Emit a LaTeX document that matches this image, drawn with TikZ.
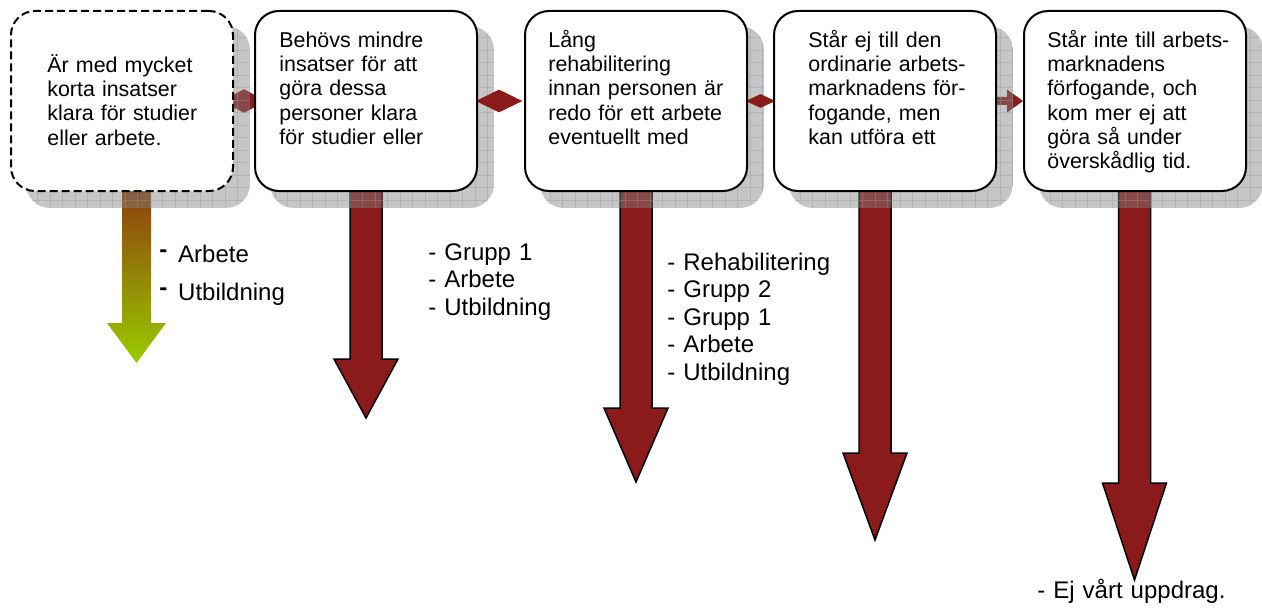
\documentclass[tikz,border=0pt]{standalone}
\usepackage{fontspec}
\setmainfont{Liberation Sans}
\usetikzlibrary{calc,shapes.geometric}
\definecolor{linkred}{RGB}{139,26,26}
\definecolor{startbrown}{RGB}{140,30,18}
\definecolor{endgreen}{RGB}{153,204,0}
\pgfdeclarelayer{bg}
\pgfdeclarelayer{shade}
\pgfdeclarelayer{mid}
\pgfsetlayers{bg,shade,mid,main}

\begin{document}
\begin{tikzpicture}[
        x=0.5pt, y=-0.5pt,
        box/.style={
            rectangle,
            draw,
            line width=1pt,
            fill=white,
            rounded corners=12pt,
            minimum width=111pt,
            minimum height=90pt,
            inner sep=0pt
        },
        boxtext/.style={
            anchor=base west,
            align=left,
            text width=105pt,
            inner sep=0pt,
            font=\fontsize{10.7}{12}\selectfont
        },
        listtext/.style={
            anchor=base west,
            align=left,
            text width=110pt,
            inner sep=0pt,
            font=\fontsize{12}{13.75}\selectfont
        },
        droparrow/.style={
            fill=linkred,
            draw=black,
            line width=0.75pt,
            line join=miter
        },
        link/.style={
            diamond,
            fill=linkred,
            inner sep=0pt
        }
    ]
        \useasboundingbox (0,0) rectangle (1262,610);

        % steps
        \node[box, dash pattern=on 4pt off 2pt] (b1) at (122,101) {};
        \node[box] (b2) at (366,101) {};
        \node[box] (b3) at (636,101) {};
        \node[box] (b4) at (885,101) {};
        \node[box] (b5) at (1135,101) {};

        \node[boxtext] (t1) at (47,73) {Är med mycket\\korta insatser\\klara för studier\\eller arbete.};
        \node[boxtext] (t2) at (279,48) {Behövs mindre\\insatser för att\\göra dessa\\personer klara\\för studier eller};
        \node[boxtext] (t3) at (548,48) {Lång\\rehabilitering\\innan personen är\\redo för ett arbete\\eventuellt med};
        \node[boxtext] (t4) at (808,48) {Står ej till den\\ordinarie arbets-\\marknadens för-\\fogande, men\\kan utföra ett};
        \node[boxtext] (t5) at (1047,48) {Står inte till arbets-\\marknadens\\förfogande, och\\kom mer ej att\\göra så under\\överskådlig tid.};

        % outcomes
        \node[listtext] (l1a) at (159,262) {\textbf{\raisebox{0.2em}{-}}\hspace{0.45em}Arbete};
        \node[listtext] (l1b) at (159,300) {\textbf{\raisebox{0.2em}{-}}\hspace{0.45em}Utbildning};
        \node[listtext] (l2) at (428,260) {- Grupp 1\\- Arbete\\- Utbildning};
        \node[listtext] (l3) at (667,270) {- Rehabilitering\\- Grupp 2\\- Grupp 1\\- Arbete\\- Utbildning};
        \node[listtext] (l5) at (1037,598) {- Ej vårt uppdrag.};

        % arrows behind the shadows
        \begin{pgfonlayer}{bg}
            \shade[top color=startbrown, bottom color=endgreen] (122,150) -- (122,323) -- (107,323) -- (136.5,363) -- (166,323) -- (151,323) -- (151,150) -- cycle;
            \foreach \x/\yhead/\ytip in {366/359/418, 636/408/482, 875/453/540, 1134.5/483/580}
                \draw[droparrow] (\x-16,150) -- (\x-16,\yhead) -- (\x-32,\yhead) -- (\x,\ytip) -- (\x+32,\yhead) -- (\x+16,\yhead) -- (\x+16,150) -- cycle;
            \node[link, minimum width=22pt, minimum height=12pt] (d12) at ($(b1.east)!0.5!(b2.west)$) {};
            \fill[linkred] ($(b4.east)+(-10,-4)$) -- ($(b5.west)+(-16,-4)$) -- ($(b5.west)+(-16,-11.5)$) -- (b5.west) -- ($(b5.west)+(-16,11.5)$) -- ($(b5.west)+(-16,4)$) -- ($(b4.east)+(-10,4)$) -- cycle;
        \end{pgfonlayer}

        % grid shadows
        \begin{pgfonlayer}{shade}
            \foreach \b in {b1,b2,b3,b4,b5} {
                \begin{scope}
                    \clip[rounded corners=12pt] ([shift={(16,16)}]\b.north west) rectangle ([shift={(16,16)}]\b.south east);
                    \fill[black!50, opacity=0.45] ([shift={(16,16)}]\b.south west) rectangle ([shift={(16,16)}]\b.north east);
                    \draw[black!40, opacity=0.4, line width=0.3pt, step=6.25pt] ([shift={(16,16)}]\b.south west) grid ([shift={(16,16)}]\b.north east);
                \end{scope}
            }
        \end{pgfonlayer}

        \begin{pgfonlayer}{mid}
            \node[link, minimum width=23.5pt, minimum height=11.5pt] (d23) at ($(b2.east)!0.5!(b3.west)+(-2,0)$) {};
            \node[link, minimum width=15pt, minimum height=7pt] (d34) at ($(b3.east)!0.5!(b4.west)$) {};
        \end{pgfonlayer}

    \end{tikzpicture}
\end{document}
